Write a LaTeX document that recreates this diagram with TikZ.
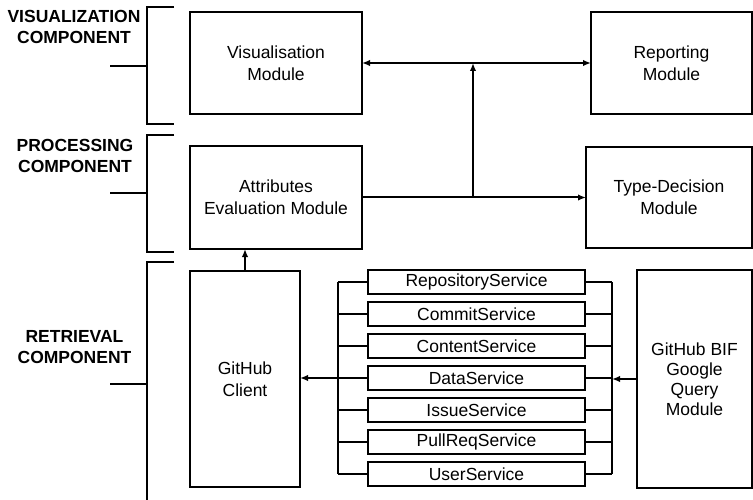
\documentclass[tikz,border=0pt]{standalone}
\usepackage{fontspec}
\setmainfont{Liberation Sans}
\usetikzlibrary{arrows.meta}
\begin{document}
\begin{tikzpicture}[x=1pt,y=-1pt,
  box/.style={draw,line width=1.4pt,inner sep=0pt,outer sep=0pt,align=center,font=\fontsize{17.5}{22}\selectfont},
  svc/.style={box,minimum width=217pt,minimum height=24pt},
  lbl/.style={align=center,font=\fontsize{17.5}{21}\selectfont\bfseries},
  brk/.style={line width=1.4pt},
  bus/.style={line width=1.3pt},
  arr/.style={line width=2pt,-{Latex[length=8pt,width=6.5pt]}},
  darr/.style={line width=2pt,{Latex[length=8pt,width=6.5pt]}-{Latex[length=8pt,width=6.5pt]}}]
\useasboundingbox (0,0) rectangle (753,500);
% brackets
\draw[brk] (174,7) -- (147,7) -- (147,124) -- (174,124);
\draw[brk] (110,66) -- (147,66);
\draw[brk] (174,135) -- (147,135) -- (147,252) -- (174,252);
\draw[brk] (110,193) -- (147,193);
\draw[brk] (174,262) -- (147,262) -- (147,500);
\draw[brk] (110,384) -- (147,384);
\node[lbl] (lv) at (74,27) {VISUALIZATION\\COMPONENT};
\node[lbl] (lp) at (75,156) {PROCESSING\\COMPONENT};
\node[lbl] (lr) at (74.5,347) {RETRIEVAL\\COMPONENT};
% modules
\node[box,minimum width=172pt,minimum height=102pt] (vis) at (276,63) {Visualisation\\Module};
\node[box,minimum width=161pt,minimum height=102pt] (rep) at (671.5,63) {Reporting\\Module};
\node[box,minimum width=172pt,minimum height=103pt] (att) at (276,197.5) {Attributes\\Evaluation Module};
\node[box,minimum width=166pt,minimum height=101pt] (typ) at (669,197.5) {Type-Decision\\Module};
\node[box,minimum width=110pt,minimum height=216pt] (gc) at (245,379) {GitHub\\Client};
\node[box,minimum width=115pt,minimum height=218pt,font=\fontsize{17.5}{20}\selectfont] (bif) at (694.5,379) {GitHub BIF\\Google\\Query\\Module};
% services
\node[svc] (s1) at (476.5,282) {RepositoryService};
\node[svc] (s2) at (476.5,314) {CommitService};
\node[svc] (s3) at (476.5,346) {ContentService};
\node[svc] (s4) at (476.5,378) {DataService};
\node[svc] (s5) at (476.5,410) {IssueService};
\node[svc] (s6) at (476.5,442) {PullReqService};
\node[svc] (s7) at (476.5,474) {UserService};
% buses
\coordinate (lt) at (338,282);
\coordinate (lb) at (338,474);
\coordinate (lm) at (338,378);
\coordinate (rt) at (612,282);
\coordinate (rb) at (612,474);
\coordinate (rm) at (612,379);
\draw[bus] (lt) -- (lb);
\draw[bus] (rt) -- (rb);
\foreach \s in {s1,s2,s3,s4,s5,s6,s7}{
  \draw[bus] (\s.west) -- (\s.west -| lt);
  \draw[bus] (\s.east) -- (\s.east -| rt);
}
\draw[arr] (lm) -- (lm -| gc.east);
\draw[arr] (bif.west |- rm) -- (rm);
% top connectors
\coordinate (j) at (473,197.5);
\draw[darr] (vis.east) -- (rep.west);
\draw[line width=2pt] (att.east) -- (j);
\draw[arr] (j) -- (typ.west);
\draw[arr] (j) -- (j |- vis.east);
\draw[arr] (gc.north) -- (gc.north |- att.south);
\end{tikzpicture}
\end{document}
